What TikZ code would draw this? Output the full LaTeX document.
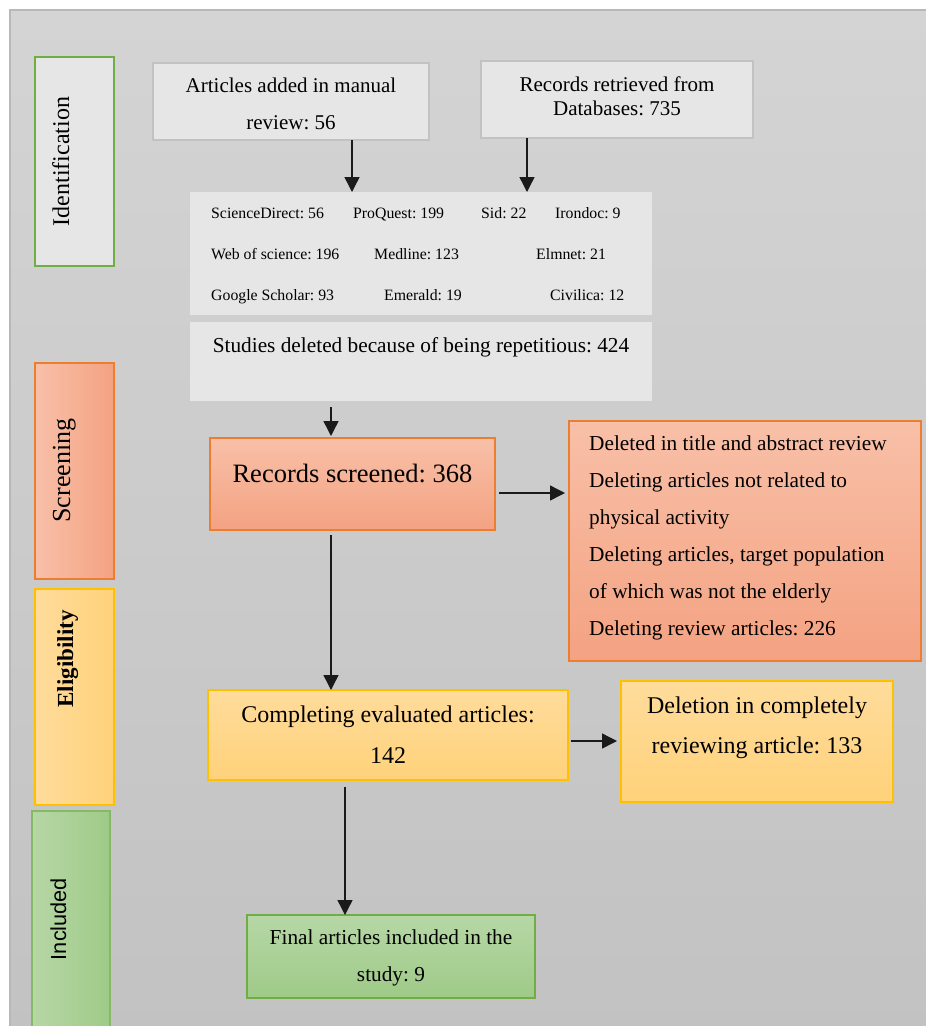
\documentclass[tikz,border=0pt]{standalone}
\usepackage{fontspec}
\setmainfont{Liberation Serif}
\newfontfamily\sansf{Liberation Sans}
\usetikzlibrary{arrows.meta}
\newcommand{\fsz}[1]{\fontsize{#1}{#1}\selectfont}
\definecolor{panelTop}{HTML}{D4D4D4}
\definecolor{panelBot}{HTML}{C2C2C2}
\definecolor{panelLine}{HTML}{B8B8B8}
\definecolor{lightfill}{HTML}{E6E6E6}
\definecolor{lightline}{HTML}{C2C2C2}
\definecolor{greenline}{HTML}{70AD47}
\definecolor{greenlineB}{HTML}{85BA64}
\definecolor{greenA}{HTML}{B6D7A6}
\definecolor{greenB}{HTML}{9FCA88}
\definecolor{orangeline}{HTML}{ED7D31}
\definecolor{orangeA}{HTML}{F8C0A8}
\definecolor{orangeB}{HTML}{F4A282}
\definecolor{yellowline}{HTML}{FFC000}
\definecolor{yellowA}{HTML}{FFDC9C}
\definecolor{yellowB}{HTML}{FFD27A}
\definecolor{arrowc}{HTML}{1A1A1A}
\frenchspacing
\begin{document}
\begin{tikzpicture}[x=1pt,y=-1pt,
  box/.style={rectangle, inner sep=0pt, outer sep=0pt},
  lightbox/.style={box, fill=lightfill},
  greybox/.style={box, fill=lightfill, draw=lightline, line width=2pt},
  orangev/.style={box, top color=orangeA, bottom color=orangeB, draw=orangeline, line width=1.6pt},
  orangeh/.style={box, left color=orangeA, right color=orangeB, draw=orangeline, line width=1.3pt},
  yellowv/.style={box, top color=yellowA, bottom color=yellowB, draw=yellowline, line width=1.8pt},
  yellowh/.style={box, left color=yellowA, right color=yellowB, draw=yellowline, line width=1.5pt},
  greenv/.style={box, top color=greenA, bottom color=greenB, draw=greenline, line width=1.6pt},
  greenh/.style={box, left color=greenA, right color=greenB, draw=greenlineB, line width=1.5pt},
  txt/.style={inner sep=0pt, anchor=base},
  ltxt/.style={inner sep=0pt, anchor=base west},
  side/.style={inner sep=0pt, anchor=base, rotate=90},
  arr/.style={draw=arrowc, line width=1.4pt, -{Triangle[length=15pt,width=15pt]}},
]
\useasboundingbox (0,0) rectangle (926,1026);
\fill[white] (0,0) rectangle (926,1026);
% panel
\node[box, minimum width=930pt, minimum height=1030pt, top color=panelTop, bottom color=panelBot, anchor=north west] (panel) at (10,10) {};
\draw[panelLine, line width=2pt] (panel.south west) -- (panel.north west) -- (panel.north east);

% side boxes
\node[box, fill=lightfill, draw=greenline, line width=2.6pt, minimum width=79pt, minimum height=209pt] (idbox) at (74.5,161.5) {};
\node[orangeh, minimum width=79pt, minimum height=216pt] (scrside) at (74.5,471) {};
\node[yellowh, minimum width=79pt, minimum height=216pt] (eligside) at (74.5,697) {};
\node[greenh, minimum width=78pt, minimum height=230pt] (incside) at (71,926) {};

\node[side, font=\fsz{24}] (idlab) at (69,161.5) {Identification};
\node[side, font=\fsz{26}] (scrlab) at (70,470.5) {Screening};
\node[side, font=\fsz{23}\bfseries] (eliglab) at (73,659) {Eligibility};
\node[side, font=\sansf\fsz{21.7}] (inclab) at (66,919) {Included};

% identification boxes
\node[greybox, minimum width=276pt, minimum height=77pt] (art) at (291,101.5) {};
\node[txt, font=\fsz{21}] (art1) at (291,92) {Articles added in manual};
\node[txt, font=\fsz{21}] (art2) at (291,129) {review: 56};

\node[greybox, minimum width=272pt, minimum height=77pt] (rec) at (617,99.5) {};
\node[txt, font=\fsz{21}] (rec1) at (617,91) {Records retrieved from};
\node[txt, font=\fsz{21}] (rec2) at (617,115) {Databases: 735};

\node[lightbox, minimum width=462pt, minimum height=123pt] (db) at (421,253.5) {};
\begin{scope}[every node/.style={ltxt, font=\fsz{15.8}}]
\node (d1) at (211,218) {ScienceDirect: 56};
\node (d2) at (353,218) {ProQuest: 199};
\node (d3) at (481,218) {Sid: 22};
\node (d4) at (555,218) {Irondoc: 9};
\node (d5) at (211,259) {Web of science: 196};
\node (d6) at (374,259) {Medline: 123};
\node (d7) at (536,259) {Elmnet: 21};
\node (d8) at (211,300) {Google Scholar: 93};
\node (d9) at (384,300) {Emerald: 19};
\node (d10) at (550,300) {Civilica: 12};
\end{scope}

\node[lightbox, minimum width=462pt, minimum height=79pt] (stud) at (421,361.5) {};
\node[txt, font=\fsz{21.3}] (stud1) at (421,352) {Studies deleted because of being repetitious: 424};

% screening
\node[orangev, minimum width=285pt, minimum height=92pt] (scr) at (352.5,484) {};
\node[txt, font=\fsz{26.5}] (scr1) at (352.5,482.7) {Records screened: 368};

\node[orangev, minimum width=352pt, minimum height=240pt] (del) at (745,541) {};
\begin{scope}[every node/.style={ltxt, font=\fsz{21.3}}]
\node (del1) at (589,450.7) {Deleted in title and abstract review};
\node (del2) at (589,487.5) {Deleting articles not related to};
\node (del3) at (589,524.4) {physical activity};
\node (del4) at (589,561.3) {Deleting articles, target population};
\node (del5) at (589,598.2) {of which was not the elderly};
\node (del6) at (589,635.1) {Deleting review articles: 226};
\end{scope}

% eligibility
\node[yellowv, minimum width=360pt, minimum height=90pt] (comp) at (388,735) {};
\node[txt, font=\fsz{24}] (comp1) at (388,722) {Completing evaluated articles:};
\node[txt, font=\fsz{24}] (comp2) at (388,763) {142};

\node[yellowv, minimum width=272pt, minimum height=121pt] (dln) at (757,741.5) {};
\node[txt, font=\fsz{24}] (dln1) at (757,713) {Deletion in completely};
\node[txt, font=\fsz{24}] (dln2) at (757,753) {reviewing article: 133};

% included
\node[greenv, minimum width=288pt, minimum height=83pt] (final) at (391,956.5) {};
\node[txt, font=\fsz{21.3}] (fin1) at (391,944) {Final articles included in the};
\node[txt, font=\fsz{21.3}] (fin2) at (391,981.7) {study: 9};

% connectors
\draw[arr] ([xshift=61pt]art.south) -- ([xshift=61pt]art.south |- db.north);
\draw[arr] ([xshift=-90pt]rec.south) -- ([xshift=-90pt]rec.south |- db.north);
\draw[arr] ([xshift=-90pt,yshift=-6pt]stud.south) -- ([xshift=-90pt,yshift=2pt]stud.south |- scr.north);
\draw[arr] ([xshift=4pt,yshift=-9pt]scr.east) -- ([xshift=-4pt,yshift=-9pt]scr.east -| del.west);
\draw[arr] ([xshift=-21.5pt,yshift=-5pt]scr.south) -- ([xshift=-21.5pt]scr.south |- comp.north);
\draw[arr] ([xshift=3pt,yshift=-6pt]comp.east) -- ([xshift=-4pt,yshift=-6pt]comp.east -| dln.west);
\draw[arr] ([xshift=-43pt,yshift=-7pt]comp.south) -- ([xshift=-43pt]comp.south |- final.north);
\end{tikzpicture}
\end{document}
